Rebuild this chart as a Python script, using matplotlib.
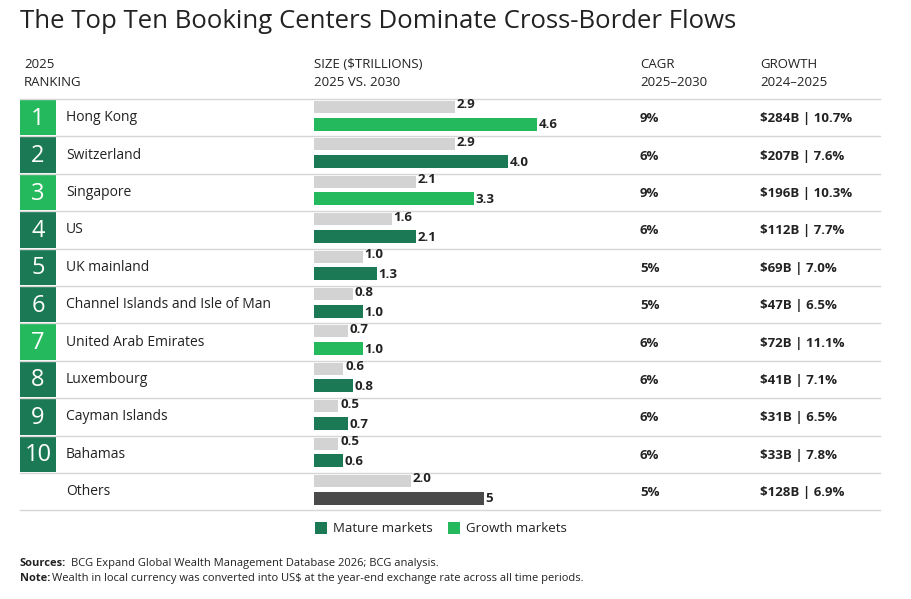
import matplotlib.pyplot as plt
from matplotlib.patches import Rectangle

plt.rcParams['font.family'] = ['Open Sans', 'DejaVu Sans']

centers = ['Hong Kong', 'Switzerland', 'Singapore', 'US', 'UK mainland',
           'Channel Islands and Isle of Man', 'United Arab Emirates', 'Luxembourg',
           'Cayman Islands', 'Bahamas', 'Others']
ranks = ['1', '2', '3', '4', '5', '6', '7', '8', '9', '10', '']
size_2025 = [2.9, 2.9, 2.1, 1.6, 1.0, 0.8, 0.7, 0.6, 0.5, 0.5, 2.0]
size_2030 = [4.6, 4.0, 3.3, 2.1, 1.3, 1.0, 1.0, 0.8, 0.7, 0.6, 3.5]
labels_2030 = ['4.6', '4.0', '3.3', '2.1', '1.3', '1.0', '1.0', '0.8', '0.7', '0.6', '5']
market = ['g', 'm', 'g', 'm', 'm', 'm', 'g', 'm', 'm', 'm', 'o']
cagr = ['9%', '6%', '9%', '6%', '5%', '5%', '6%', '6%', '6%', '6%', '5%']
growth = ['$284B | 10.7%', '$207B | 7.6%', '$196B | 10.3%', '$112B | 7.7%', '$69B | 7.0%',
          '$47B | 6.5%', '$72B | 11.1%', '$41B | 7.1%', '$31B | 6.5%', '$33B | 7.8%',
          '$128B | 6.9%']

colors = {'g': '#24b95c', 'm': '#1b7a55', 'o': '#4a4a4a'}
grey = '#d3d3d3'
W, H = 911, 599

fig = plt.figure(figsize=(W / 100, H / 100), dpi=100)
ax = fig.add_axes([0, 0, 1, 1])
ax.set_xlim(0, W)
ax.set_ylim(H, 0)
ax.axis('off')

ax.text(20, 22, 'The Top Ten Booking Centers Dominate Cross-Border Flows',
        fontsize=18.5, va='center', color='#222222')
hdr = dict(fontsize=9.5, va='center', color='#222222')
ax.text(24, 64, '2025', **hdr)
ax.text(24, 82, 'RANKING', **hdr)
ax.text(314, 64, 'SIZE ($TRILLIONS)', **hdr)
ax.text(314, 82, '2025 VS. 2030', **hdr)
ax.text(640, 64, 'CAGR', **hdr)
ax.text(640, 82, '2025–2030', **hdr)
ax.text(760, 64, 'GROWTH', **hdr)
ax.text(760, 82, '2024–2025', **hdr)

y0, step = 99, 37.4
for i in range(len(centers) + 1):
    yy = y0 + i * step
    ax.plot([20, 880], [yy, yy], color='#d6d6d6', lw=1)

for i, name in enumerate(centers):
    top = y0 + i * step
    yc = top + step / 2
    if ranks[i]:
        ax.add_patch(Rectangle((20, top + 1), 36, step - 2, color=colors[market[i]], lw=0))
        ax.text(38, yc + 1, ranks[i], fontsize=17, color='white', ha='center', va='center')
    ax.text(66, yc, name, fontsize=10, va='center', color='#222222')
    ax.text(640, yc + 1, cagr[i], fontsize=9.5, fontweight='bold', va='center', color='#222222')
    ax.text(760, yc + 1, growth[i], fontsize=9.5, fontweight='bold', va='center', color='#222222')

# bars in trillions
bx = fig.add_axes([314 / W, 0, 48.5 * 6 / W, 1])
bx.set_xlim(0, 6)
bx.set_ylim(H, 0)
bx.axis('off')
tops = [y0 + i * step for i in range(len(centers))]
bx.barh([t + 8 for t in tops], size_2025, height=12, left=0, color=grey)
bx.barh([t + 25 for t in tops], size_2030, height=13, left=0,
        color=[colors[m] for m in market])
for i, t in enumerate(tops):
    bx.text(size_2025[i] + 0.04, t + 6, '%.1f' % size_2025[i], fontsize=9.5,
            fontweight='bold', ha='left', va='center', color='#222222')
    bx.text(size_2030[i] + 0.03, t + 26, labels_2030[i], fontsize=9.5,
            fontweight='bold', ha='left', va='center', color='#222222')

# legend
ax.add_patch(Rectangle((315, 522), 12, 12, color=colors['m'], lw=0))
ax.text(333, 528, 'Mature markets', fontsize=9.5, va='center', color='#222222')
ax.add_patch(Rectangle((448, 522), 12, 12, color=colors['g'], lw=0))
ax.text(466, 528, 'Growth markets', fontsize=9.5, va='center', color='#222222')

ax.text(20, 566, 'Sources:', fontsize=8, fontweight='bold', va='baseline', color='#222222')
ax.text(71, 566, 'BCG Expand Global Wealth Management Database 2026; BCG analysis.',
        fontsize=8, va='baseline', color='#222222')
ax.text(20, 581, 'Note:', fontsize=8, fontweight='bold', va='baseline', color='#222222')
ax.text(52, 581, 'Wealth in local currency was converted into US$ at the year-end exchange rate across all time periods.',
        fontsize=8, va='baseline', color='#222222')

fig.savefig('out.png', dpi=100, facecolor='white')
